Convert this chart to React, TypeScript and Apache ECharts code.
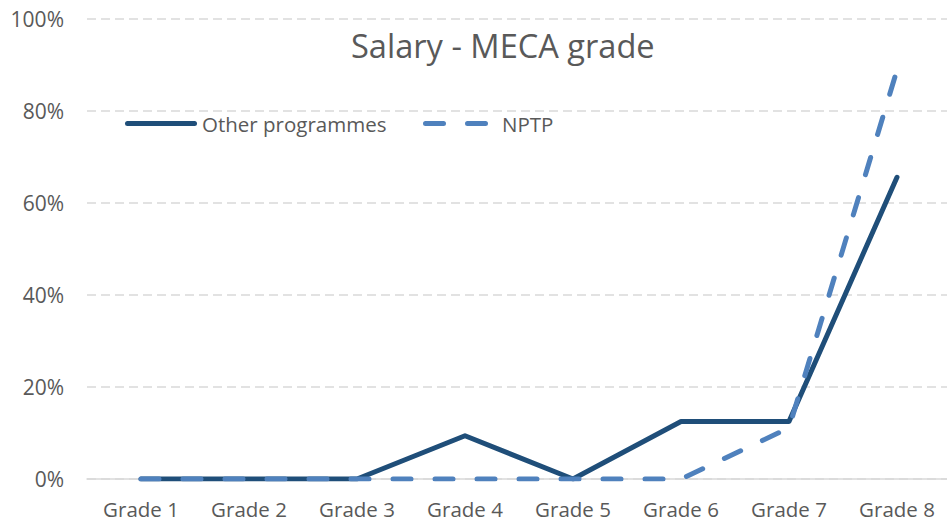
import React, { useEffect, useRef } from "react";
import * as echarts from "echarts";

const categories = ["Grade 1", "Grade 2", "Grade 3", "Grade 4", "Grade 5", "Grade 6", "Grade 7", "Grade 8"];
const otherProgrammes = [0, 0, 0, 9.4, 0, 12.5, 12.5, 65.6];
const nptp = [0, 0, 0, 0, 0, 0, 11.1, 88.9];
const yTicks = { min: 0, max: 100, interval: 20 };
const title = "Salary - MECA grade";

const FONT = "'Open Sans', sans-serif";
const TXT = "#595959";
const SOLID = "#1f4e79";
const DASHED = "#4f81bd";

const solidIcon =
  "path://M2.5,0 H69.5 A2.5,2.5 0 0 1 69.5,5 H2.5 A2.5,2.5 0 0 1 2.5,0 Z";
const dashedIcon =
  "path://M2.5,0 H20.5 A2.5,2.5 0 0 1 20.5,5 H2.5 A2.5,2.5 0 0 1 2.5,0 Z M44.5,0 H62.5 A2.5,2.5 0 0 1 62.5,5 H44.5 A2.5,2.5 0 0 1 44.5,0 Z";

export default function App() {
  const ref = useRef<HTMLDivElement>(null);
  useEffect(() => {
    if (!ref.current) return;
    const chart = echarts.init(ref.current, null, { renderer: "svg" });
    chart.setOption({
      animation: false,
      backgroundColor: "#ffffff",
      title: {
        text: title,
        left: 351,
        top: 29,
        padding: 0,
        textStyle: { fontFamily: FONT, fontSize: 32.6, fontWeight: "normal", color: TXT },
      },
      legend: [
        {
          data: [{ name: "Other programmes", icon: solidIcon }],
          left: 125,
          top: 113,
          padding: 0,
          itemWidth: 72,
          itemHeight: 5,
          textStyle: { fontFamily: FONT, fontSize: 20.5, color: TXT },
        },
        {
          data: [{ name: "NPTP", icon: dashedIcon }],
          left: 423,
          top: 113,
          padding: 0,
          itemWidth: 65,
          itemHeight: 5,
          textStyle: { fontFamily: FONT, fontSize: 20.5, color: TXT, padding: [0, 0, 0, 9] },
        },
      ],
      grid: { left: 87, top: 19, width: 864, height: 460, containLabel: false },
      xAxis: {
        type: "category",
        data: categories,
        boundaryGap: true,
        axisLine: { show: true, lineStyle: { color: "#d9d9d9", width: 1.5 } },
        axisTick: { show: false },
        axisLabel: { fontFamily: FONT, fontSize: 20.5, color: TXT, margin: 19 },
      },
      yAxis: {
        type: "value",
        min: yTicks.min,
        max: yTicks.max,
        interval: yTicks.interval,
        axisLine: { show: false },
        axisTick: { show: false },
        axisLabel: { fontFamily: FONT, fontSize: 21, color: TXT, margin: 23, formatter: "{value}%" },
        splitLine: { lineStyle: { color: "#d9d9d9", width: 1.5, type: [9, 5] } },
      },
      series: [
        {
          name: "Other programmes",
          type: "line",
          data: otherProgrammes,
          symbol: "none",
          showSymbol: false,
          color: SOLID,
          itemStyle: { color: SOLID },
          lineStyle: { color: SOLID, width: 5, cap: "round", join: "round" },
          z: 2,
        },
        {
          name: "NPTP",
          type: "line",
          data: nptp,
          symbol: "none",
          showSymbol: false,
          color: DASHED,
          itemStyle: { color: DASHED },
          lineStyle: { color: DASHED, width: 5, type: [18, 24], cap: "round", join: "round" },
          z: 3,
        },
      ],
    });
    return () => chart.dispose();
  }, []);
  return (
    <div style={{ position: "fixed", left: 0, top: 0, width: 947, height: 521, overflow: "hidden", background: "#fff" }}>
      <div ref={ref} style={{ width: 960, height: 521 }} />
    </div>
  );
}
